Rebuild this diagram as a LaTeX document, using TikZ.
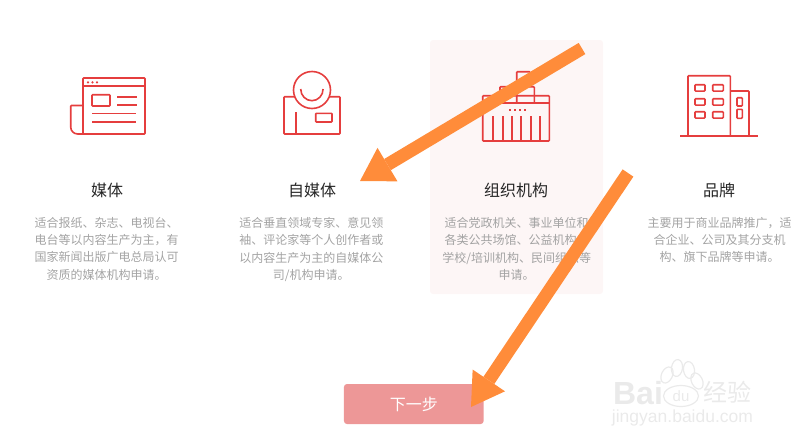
\documentclass[tikz,border=0pt]{standalone}
\usepackage{fontspec}
\usepackage{xcolor}
\usepackage{tikz}
\usetikzlibrary{arrows.meta}
\setmainfont{Noto Sans CJK SC}
\newfontfamily\wmfont{Liberation Sans}
\definecolor{iconred}{HTML}{E53E3E}
\definecolor{arroworange}{HTML}{FF8C3A}
\definecolor{panelpink}{HTML}{FDF6F6}
\definecolor{btnpink}{HTML}{ED9797}
\definecolor{wmgray}{HTML}{EAEAEA}
\tikzset{
  icon/.style={draw=iconred, line width=1.6pt, rounded corners=0.8pt},
  title/.style={font=\fontsize{16}{18}\selectfont, text=black!85},
  desc/.style={anchor=north, align=center, text=black!36, font=\fontsize{12}{17.4}\selectfont},
  pointer/.style={draw=arroworange, line width=13pt, -{Triangle[length=32pt,width=39pt,line width=0pt,fill=arroworange]}},
  watermark/.style={text=wmgray}
}

\begin{document}
\begin{tikzpicture}[x=1pt,y=-1pt]
        \useasboundingbox (0,0) rectangle (798,445);
        \fill[panelpink, rounded corners=3pt] (430,40) rectangle (603,294);

        % newspaper
        \draw[icon] (83,78) rectangle (145,134);
        \draw[icon] (83,86) -- (145,86);
        \draw[icon] (83,86) -- (83,127);
        \draw[icon] (83,105.5) -- (70.7,105.5) [rounded corners=7pt] -- (70.7,134) -- (100,134);
        \draw[icon] (92,94.7) rectangle (110,106);
        \foreach \ypos in {96.7, 104.7}
          \draw[icon] (117,\ypos) -- (136.7,\ypos);
        \foreach \ypos in {113.3, 121.7}
          \draw[icon] (92,\ypos) -- (136,\ypos);
        \foreach \xpos in {88, 92.5, 97}
          \fill[iconred] (\xpos,82.3) circle (1.2pt);

        % person
        \draw[icon] (295,96.7) -- (284,96.7) -- (284,134) -- (340,134) -- (340,96.7) -- (329,96.7);
        \draw[icon] (312,90) circle (18.5);
        \draw[icon] (300.7,89) arc[start angle=180,end angle=360,x radius=11.2,y radius=-11.7];
        \draw[icon] (295.7,112.3) -- (295.7,134);
        \draw[icon] (315.7,113.3) rectangle (332,122);

        % organisation
        \draw[icon] (482.7,95.7) rectangle (549.3,141);
        \draw[icon] (482.7,102.7) -- (549.3,102.7);
        \draw[icon] (500,102.7) -- (500,86.7) -- (534.3,86.7) -- (534.3,102.7);
        \draw[icon] (516.7,102.7) -- (516.7,71.7) -- (530,71.7) -- (530,86.7);
        \foreach \xpos in {492.7, 502.7, 512, 521, 530.7, 540}
          \draw[icon] (\xpos,116) -- (\xpos,141);
        \foreach \xpos in {509, 514.3, 519, 524.3}
          \fill[iconred] (\xpos,109.2) rectangle +(1.8,1.8);

        % building
        \draw[icon] (688,136) -- (688,75.7) -- (730.3,75.7) -- (730.3,136);
        \draw[icon] (730.3,91) -- (749,91) -- (749,136);
        \draw[icon] (680,136) -- (757.7,136);
        \foreach \ypos in {84.7, 98.7, 111.7} {
          \draw[icon] (695,\ypos) rectangle (705,\ypos+6.4);
          \draw[icon] (712.7,\ypos) rectangle (723.3,\ypos+6.4);
        }
        \draw[icon] (737,97.7) rectangle (742.3,106);
        \draw[icon] (737,109.3) rectangle (742.3,118.3);

        \node[title] (t1) at (107,190) {媒体};
        \node[title] (t2) at (312,190) {自媒体};
        \node[title] (t3) at (516,190) {组织机构};
        \node[title] (t4) at (719,190) {品牌};

        \node[desc] (d1) at (106.7,213.5) {适合报纸、杂志、电视台、\\电台等以内容生产为主，有\\国家新闻出版广电总局认可\\资质的媒体机构申请。};
        \node[desc] (d2) at (311.3,213.5) {适合垂直领域专家、意见领\\袖、评论家等个人创作者或\\以内容生产为主的自媒体公\\司/机构申请。};
        \node[desc] (d3) at (516.7,213.5) {适合党政机关、事业单位和\\各类公共场馆、公益机构、\\学校/培训机构、民间组织等\\申请。};
        \node[desc] (d4) at (719.7,213.5) {主要用于商业品牌推广，适\\合企业、公司及其分支机\\构、旗下品牌等申请。};

        \node[fill=btnpink, rounded corners=3pt, minimum width=139.7pt, minimum height=40pt, text=white,
              font=\fontsize{16}{18}\selectfont] (next) at (413.8,404) {下一步};

        % baidu mark
        \node[watermark, font=\wmfont\bfseries\fontsize{32}{32}\selectfont, inner sep=0pt] (wm1) at (638,393) {Bai};
        \draw[wmgray, line width=1.2pt] (681,396) ellipse (17.5 and 10.5);
        \node[watermark, font=\wmfont\fontsize{15}{15}\selectfont, inner sep=0pt] (wm2) at (681,396) {du};
        \foreach \xpos/\ypos/\rot in {667/375/-25, 677/368/-8, 689/370/8, 697/381/25}
          \draw[wmgray, line width=1.2pt] (\xpos,\ypos) ellipse[x radius=5.5, y radius=8.5, rotate=\rot];
        \node[watermark, font=\fontsize{24}{24}\selectfont, inner sep=0pt] (wm3) at (727.5,392) {经验};
        \node[watermark, font=\wmfont\fontsize{17.5}{17.5}\selectfont, inner sep=0pt] (wm4) at (682.5,418) {jingyan.baidu.com};

        \coordinate (a1) at (582,48.5);
        \coordinate (b1) at (360,181);
        \coordinate (a2) at (628,173);
        \coordinate (b2) at (471,407);
        \foreach \from/\to in {a1/b1, a2/b2}
        \draw[pointer] (\from) -- (\to);
      \end{tikzpicture}
\end{document}
